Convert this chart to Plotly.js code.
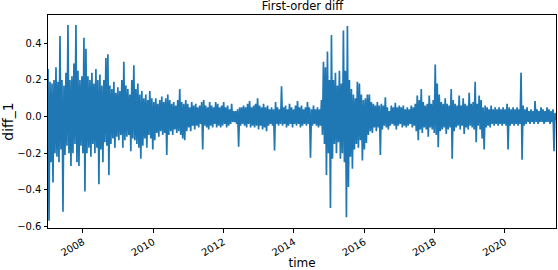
<!DOCTYPE html>
<html>
<head>
<meta charset="utf-8">
<script src="https://cdn.plot.ly/plotly-3.0.1.min.js"></script>
<style>html,body{margin:0;padding:0;background:#fff;}#chart{width:558px;height:270px;}</style>
</head>
<body>
<div id="chart"></div>
<script>
// Envelope of first-order diff (upper and lower extremes, ~3-week windows)
const startDate = '2007-01-03';
const endDate = '2021-06-16';
const hi = [
0.26,0.19,0.18,0.20,0.27,0.19,0.44,0.20,0.17,0.24,
0.50,0.20,0.22,0.29,0.50,0.25,0.20,0.22,0.43,0.37,
0.22,0.20,0.24,0.18,0.26,0.20,0.23,0.17,0.20,0.32,
0.34,0.17,0.15,0.19,0.13,0.16,0.14,0.20,0.30,0.17,
0.15,0.12,0.20,0.28,0.15,0.18,0.12,0.14,0.10,0.12,
0.09,0.14,0.10,0.08,0.10,0.07,0.09,0.11,0.08,0.10,
0.12,0.09,0.07,0.08,0.06,0.09,0.15,0.08,0.07,0.09,
0.07,0.05,0.08,0.06,0.07,0.05,0.06,0.08,0.09,0.06,
0.05,0.08,0.06,0.05,0.08,0.07,0.05,0.06,0.08,0.05,
0.06,0.04,0.07,0.03,0.03,0.04,0.05,0.05,0.06,0.05,
0.07,0.085,0.05,0.06,0.07,0.10,0.06,0.05,0.07,0.05,
0.06,0.04,0.05,0.04,0.08,0.05,0.04,0.165,0.05,0.06,
0.04,0.07,0.05,0.04,0.06,0.085,0.05,0.06,0.04,0.05,
0.08,0.05,0.04,0.06,0.04,0.05,0.04,0.09,0.30,0.27,
0.355,0.20,0.445,0.20,0.24,0.17,0.25,0.18,0.47,0.25,
0.495,0.20,0.15,0.12,0.10,0.19,0.18,0.12,0.09,0.10,
0.12,0.12,0.08,0.07,0.06,0.08,0.06,0.07,0.06,0.105,
0.05,0.03,0.06,0.05,0.075,0.05,0.06,0.05,0.06,0.04,
0.05,0.04,0.06,0.05,0.07,0.115,0.09,0.15,0.08,0.06,
0.07,0.115,0.07,0.09,0.284,0.18,0.12,0.08,0.07,0.10,
0.07,0.06,0.15,0.09,0.07,0.06,0.115,0.06,0.10,0.07,
0.06,0.13,0.07,0.08,0.19,0.07,0.115,0.09,0.05,0.06,
0.05,0.04,0.06,0.04,0.05,0.04,0.05,0.04,0.05,0.04,
0.07,0.05,0.04,0.05,0.04,0.05,0.04,0.24,0.06,0.04,
0.05,0.03,0.04,0.03,0.085,0.04,0.03,0.05,0.04,0.03,
0.05,0.04,0.03,0.04,0.02
];
const lo = [
-0.57,-0.25,-0.36,-0.20,-0.22,-0.25,-0.18,-0.52,-0.21,-0.16,
-0.20,-0.27,-0.20,-0.15,-0.25,-0.27,-0.16,-0.20,-0.41,-0.20,
-0.17,-0.22,-0.15,-0.20,-0.17,-0.37,-0.18,-0.25,-0.14,-0.16,
-0.32,-0.15,-0.12,-0.17,-0.11,-0.13,-0.10,-0.17,-0.13,-0.11,
-0.10,-0.19,-0.12,-0.13,-0.15,-0.17,-0.23,-0.16,-0.12,-0.17,
-0.10,-0.12,-0.18,-0.13,-0.09,-0.11,-0.08,-0.10,-0.09,-0.21,
-0.10,-0.08,-0.10,-0.07,-0.09,-0.08,-0.10,-0.12,-0.13,-0.08,
-0.06,-0.08,-0.05,-0.07,-0.05,-0.06,-0.04,-0.18,-0.05,-0.06,
-0.07,-0.05,-0.06,-0.04,-0.06,-0.05,-0.06,-0.05,-0.04,-0.06,
-0.05,-0.04,-0.03,-0.03,-0.04,-0.165,-0.05,-0.04,-0.05,-0.06,
-0.04,-0.06,-0.05,-0.06,-0.05,-0.07,-0.05,-0.07,-0.06,-0.08,
-0.05,-0.04,-0.05,-0.185,-0.04,-0.05,-0.04,-0.05,-0.04,-0.06,
-0.05,-0.04,-0.06,-0.04,-0.05,-0.04,-0.06,-0.05,-0.04,-0.05,
-0.04,-0.225,-0.05,-0.04,-0.05,-0.06,-0.05,-0.10,-0.15,-0.32,
-0.20,-0.50,-0.23,-0.15,-0.20,-0.14,-0.23,-0.20,-0.25,-0.55,
-0.385,-0.22,-0.285,-0.18,-0.15,-0.17,-0.13,-0.24,-0.18,-0.145,
-0.10,-0.08,-0.09,-0.06,-0.08,-0.06,-0.21,-0.07,-0.05,-0.06,
-0.07,-0.05,-0.04,-0.05,-0.07,-0.05,-0.04,-0.06,-0.05,-0.06,
-0.05,-0.04,-0.06,-0.05,-0.08,-0.13,-0.07,-0.09,-0.06,-0.07,
-0.11,-0.06,-0.07,-0.09,-0.10,-0.167,-0.08,-0.07,-0.06,-0.095,
-0.07,-0.06,-0.23,-0.08,-0.06,-0.05,-0.07,-0.05,-0.095,-0.06,
-0.07,-0.05,-0.06,-0.07,-0.14,-0.05,-0.07,-0.12,-0.18,-0.06,
-0.05,-0.06,-0.04,-0.05,-0.04,-0.05,-0.04,-0.05,-0.04,-0.05,
-0.18,-0.05,-0.04,-0.05,-0.04,-0.05,-0.04,-0.236,-0.05,-0.04,
-0.03,-0.04,-0.03,-0.04,-0.03,-0.04,-0.03,-0.03,-0.04,-0.03,
-0.03,-0.04,-0.03,-0.19,-0.02
];
const yTickVals = [-0.6,-0.4,-0.2,0.0,0.2,0.4];
const xTickVals = ['2008-01-01','2010-01-01','2012-01-01','2014-01-01','2016-01-01','2018-01-01','2020-01-01'];
const xTickText = ['2008','2010','2012','2014','2016','2018','2020'];

const t0 = Date.parse(startDate + 'T00:00:00Z');
const t1 = Date.parse(endDate + 'T00:00:00Z');
const n = hi.length;
const step = (t1 - t0) / (n - 0.5);
const xs = [], ys = [];
for (let i = 0; i < n; i++) {
  xs.push(new Date(t0 + i * step).toISOString());
  ys.push(hi[i]);
  xs.push(new Date(t0 + (i + 0.5) * step).toISOString());
  ys.push(lo[i]);
}

const font = 'DejaVu Sans, sans-serif';
const data = [{
  type: 'scatter', mode: 'lines', x: xs, y: ys,
  line: {color: '#1f77b4', width: 1.7},
  hoverinfo: 'skip'
}];
const layout = {
  width: 558, height: 270,
  margin: {l: 48, r: 2, t: 15, b: 42},
  paper_bgcolor: '#fff', plot_bgcolor: '#fff',
  showlegend: false,
  font: {family: font, color: '#000', size: 10},
  title: {text: 'First-order diff', font: {family: font, size: 11.5, color: '#000'}, x: 0.542, xanchor: 'center', yref: 'container', y: 1, yanchor: 'top', pad: {t: 2}},
  xaxis: {
    type: 'date', range: [startDate, endDate],
    tickvals: xTickVals, ticktext: xTickText, tickangle: -30,
    ticks: 'outside', ticklen: 3.5, tickwidth: 1, tickcolor: '#000',
    showline: true, linecolor: '#000', linewidth: 1, mirror: true,
    showgrid: false, zeroline: false,
    tickfont: {family: font, size: 10, color: '#000'},
    title: {text: 'time', font: {family: font, size: 12, color: '#000'}, standoff: 4}
  },
  yaxis: {
    range: [-0.609, 0.555],
    tickvals: yTickVals, tickformat: '.1f',
    ticks: 'outside', ticklen: 3.5, tickwidth: 1, tickcolor: '#000',
    showline: true, linecolor: '#000', linewidth: 1, mirror: true,
    showgrid: false, zeroline: false,
    tickfont: {family: font, size: 10, color: '#000'},
    title: {text: 'diff_1', font: {family: font, size: 14, color: '#000'}, standoff: 6}
  }
};
Plotly.newPlot('chart', data, layout, {staticPlot: true, displayModeBar: false});
</script>
</body>
</html>
